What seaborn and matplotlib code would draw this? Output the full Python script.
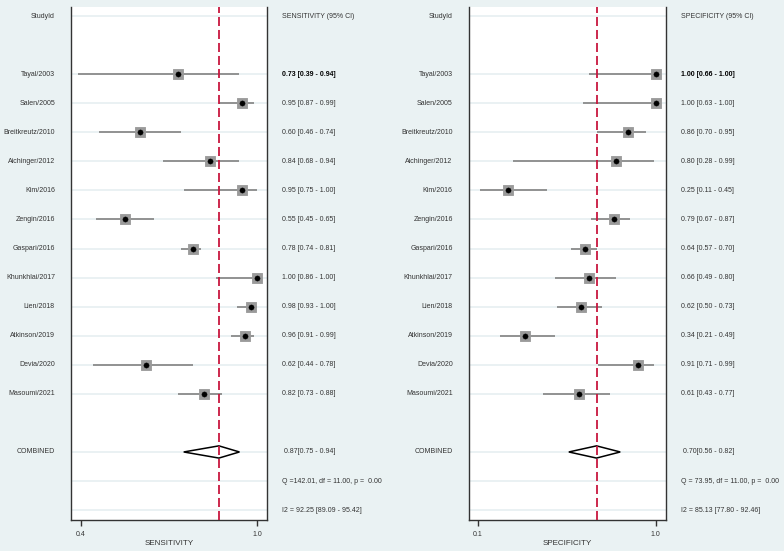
import pandas as pd
import seaborn as sns
import matplotlib.pyplot as plt
from matplotlib.transforms import blended_transform_factory

# study names
studies = ['Tayal/2003', 'Salen/2005', 'Breitkreutz/2010', 'Aichinger/2012', 'Kim/2016',
           'Zengin/2016', 'Gaspari/2016', 'Khunkhlai/2017', 'Lien/2018', 'Atkinson/2019',
           'Devia/2020', 'Masoumi/2021']

# sensitivity estimates and 95% CI
sens = [0.73, 0.95, 0.60, 0.84, 0.95, 0.55, 0.78, 1.00, 0.98, 0.96, 0.62, 0.82]
sens_lo = [0.39, 0.87, 0.46, 0.68, 0.75, 0.45, 0.74, 0.86, 0.93, 0.91, 0.44, 0.73]
sens_hi = [0.94, 0.99, 0.74, 0.94, 1.00, 0.65, 0.81, 1.00, 1.00, 0.99, 0.78, 0.88]
sens_comb = [0.87, 0.75, 0.94]
sens_q = 'Q =142.01, df = 11.00, p =  0.00'
sens_i2 = 'I2 = 92.25 [89.09 - 95.42]'

# specificity estimates and 95% CI
spec = [1.00, 1.00, 0.86, 0.80, 0.25, 0.79, 0.64, 0.66, 0.62, 0.34, 0.91, 0.61]
spec_lo = [0.66, 0.63, 0.70, 0.28, 0.11, 0.67, 0.57, 0.49, 0.50, 0.21, 0.71, 0.43]
spec_hi = [1.00, 1.00, 0.95, 0.99, 0.45, 0.87, 0.70, 0.80, 0.73, 0.49, 0.99, 0.77]
spec_comb = [0.70, 0.56, 0.82]
spec_q = 'Q = 73.95, df = 11.00, p =  0.00'
spec_i2 = 'I2 = 85.13 [77.80 - 92.46]'

sns.set_theme(style="white")
plt.rcParams['font.family'] = ['Liberation Sans', 'DejaVu Sans']

BG = '#EAF2F3'
TXT = '#333333'
FS = 5.0

fig = plt.figure(figsize=(7.84, 5.51), dpi=100, facecolor=BG)


def forest(rect, est, lo, hi, comb, qtxt, i2txt, title, xlabel, xlim, ticks):
    ax = fig.add_axes(rect)
    ax.set_facecolor('white')
    rows = list(range(2, 2 + len(studies)))
    df = pd.DataFrame({'row': rows, 'est': est, 'lo': lo, 'hi': hi})

    # light row lines
    grid_rows = [0] + rows + [15, 16, 17]
    ax.hlines(grid_rows, xlim[0], xlim[1], color='#EAF1F3', lw=1.4, zorder=0)

    # confidence intervals
    ax.hlines(df['row'], df['lo'], df['hi'], color='#8a8a8a', lw=1.3, zorder=2)
    sns.scatterplot(data=df, x='est', y='row', marker='s', s=60, color='#9a9a9a',
                    edgecolor='#9a9a9a', ax=ax, zorder=3, legend=False)
    sns.scatterplot(data=df, x='est', y='row', marker='o', s=14, color='black',
                    edgecolor='black', ax=ax, zorder=4, legend=False)

    # pooled diamond
    c, clo, chi = comb
    ax.fill([clo, c, chi, c, clo], [15, 15 - 0.21, 15, 15 + 0.21, 15],
            facecolor='white', edgecolor='black', lw=1.1, zorder=3)
    ax.axvline(c, color='#C8173F', lw=1.3, ls=(0, (5, 2.2)), zorder=5)

    ax.set_xlim(xlim)
    ax.set_ylim(17.34, -0.31)
    ax.set_yticks([])
    ax.set_xticks(ticks)
    ax.set_xticklabels(['%.1f' % t for t in ticks], fontsize=FS, color=TXT)
    ax.tick_params(axis='x', direction='out', length=4, width=1, color='#333333',
                   bottom=True, pad=4)
    ax.set_xlabel(xlabel, fontsize=FS + 0.8, color=TXT, labelpad=1.5)
    ax.spines['top'].set_visible(False)
    for s in ['left', 'right', 'bottom']:
        ax.spines[s].set_color('#333333')
        ax.spines[s].set_linewidth(1.0)

    tr = blended_transform_factory(ax.transAxes, ax.transData)
    ax.text(-0.082, 0, 'StudyId', transform=tr, ha='right', va='center', fontsize=FS, color=TXT)
    ax.text(1.077, 0, title, transform=tr, ha='left', va='center', fontsize=FS, color=TXT)
    for i, r in enumerate(rows):
        ax.text(-0.082, r, studies[i], transform=tr, ha='right', va='center',
                fontsize=FS, color=TXT)
        ax.text(1.077, r, '%.2f [%.2f - %.2f]' % (est[i], lo[i], hi[i]), transform=tr,
                ha='left', va='center', fontsize=FS, color='black' if i == 0 else TXT,
                fontweight='semibold' if i == 0 else 'normal')
    ax.text(-0.082, 15, 'COMBINED', transform=tr, ha='right', va='center', fontsize=FS, color=TXT)
    ax.text(1.087, 15, '%.2f[%.2f - %.2f]' % (c, clo, chi), transform=tr, ha='left',
            va='center', fontsize=FS, color=TXT)
    ax.text(1.077, 16, qtxt, transform=tr, ha='left', va='center', fontsize=FS, color=TXT)
    ax.text(1.077, 17, i2txt, transform=tr, ha='left', va='center', fontsize=FS, color=TXT)
    ax.set_ylabel('')
    return ax


forest([0.0906, 0.0563, 0.25, 0.931], sens, sens_lo, sens_hi, sens_comb, sens_q, sens_i2,
       'SENSITIVITY (95% CI)', 'SENSITIVITY', (0.366, 1.034), [0.4, 1.0])
forest([0.598, 0.0563, 0.2513, 0.931], spec, spec_lo, spec_hi, spec_comb, spec_q, spec_i2,
       'SPECIFICITY (95% CI)', 'SPECIFICITY', (0.0545, 1.0506), [0.1, 1.0])

plt.savefig('out.png', dpi=100, facecolor=BG)
